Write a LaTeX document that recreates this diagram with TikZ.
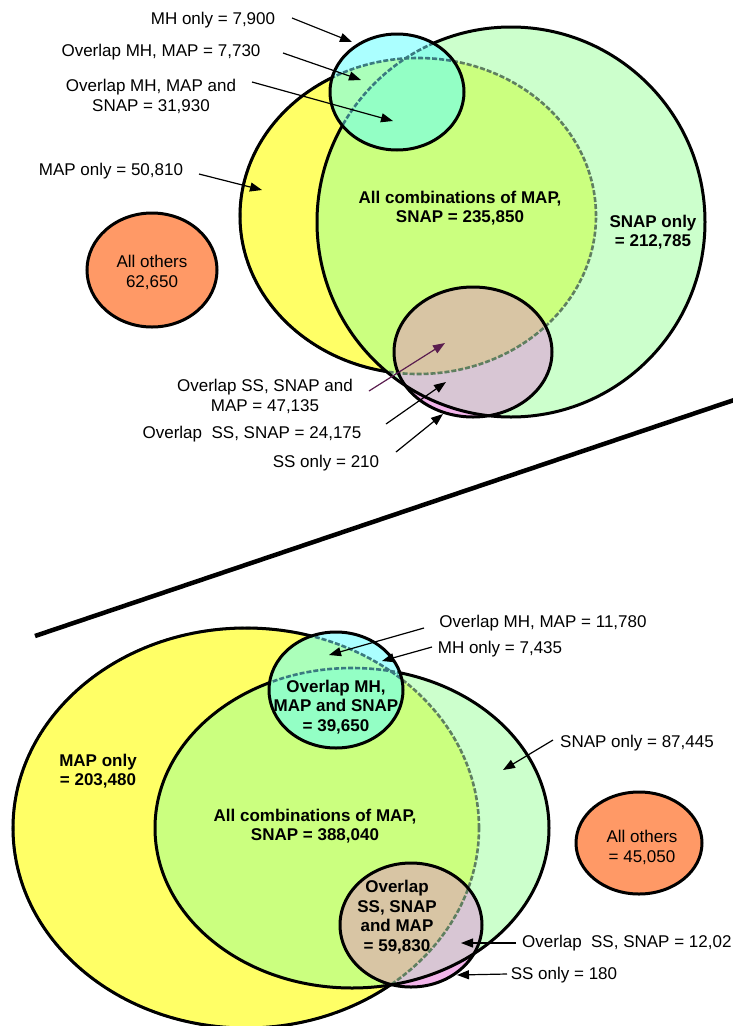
\documentclass[tikz,border=0pt]{standalone}
\usepackage{fontspec}
\setmainfont{Liberation Sans}
\usetikzlibrary{arrows.meta}
\definecolor{yel}{HTML}{FFFF66}
\definecolor{grn}{HTML}{99FF99}
\definecolor{cyn}{HTML}{66FFFF}
\definecolor{pnk}{HTML}{EE69E1}
\definecolor{slv}{HTML}{F2B4EA}
\definecolor{org}{HTML}{FF9966}
\definecolor{gry}{HTML}{5F7F60}
\definecolor{tl}{HTML}{3A7A80}
\definecolor{prp}{HTML}{5B1E4F}
\def\pYT{(418,216) ellipse [x radius=178pt,y radius=158pt]}
\def\pGT{(511,222) ellipse [x radius=194pt,y radius=195pt]}
\def\pMT{(397,92) ellipse [x radius=67pt,y radius=58pt]}
\def\pST{(473,352) ellipse [x radius=79pt,y radius=65pt]}
\def\pOT{(152,270) ellipse [x radius=65pt,y radius=57pt]}
\def\pYB{(246,828) ellipse [x radius=233pt,y radius=200pt]}
\def\pGB{(352,828) ellipse [x radius=197pt,y radius=160pt]}
\def\pMB{(336,690) ellipse [x radius=67pt,y radius=58pt]}
\def\pSB{(411,925) ellipse [x radius=71pt,y radius=62pt]}
\def\pOB{(639,843) ellipse [x radius=63pt,y radius=51pt]}
\def\pBig{(-100,-100) rectangle (900,1200)}
\begin{document}
\begin{tikzpicture}[x=1pt,y=-1pt,
  lbl/.style={font=\fontsize{17}{20}\selectfont, align=center, inner sep=0pt},
  blbl/.style={font=\fontsize{17}{19.5}\selectfont\bfseries, align=center, inner sep=0pt},
  arr/.style={line width=1.2pt, -{Triangle[length=12pt,width=9pt]}},
  outl/.style={line width=3pt},
  dsh/.style={line width=2.6pt, dash pattern=on 5pt off 2pt}]
\useasboundingbox (0,0) rectangle (733,1026);
\clip (0,0) rectangle (733,1026);

% ================= TOP DIAGRAM =================
\fill[yel] \pYT;
\fill[grn, opacity=.5] \pGT;
\fill[cyn, opacity=.55] \pMT;
\fill[pnk, opacity=.38] \pST;
\begin{scope}[even odd rule]
  \clip \pST;
  \clip \pBig \pYT;
  \clip \pBig \pGT;
  \fill[slv] \pBig;
\end{scope}
\begin{scope}
  \clip \pMT;
  \draw[dsh, tl] \pYT;
  \draw[dsh, tl] \pGT;
\end{scope}
\begin{scope}[even odd rule]
  \clip \pBig \pMT;
  \draw[dsh, gry] \pYT;
  \begin{scope}
    \clip \pBig \pGT;
    \draw[outl] \pYT;
  \end{scope}
  \draw[outl] \pGT;
\end{scope}
\draw[outl] \pMT;
\draw[outl] \pST;
\filldraw[outl, fill=org] \pOT;

\node[lbl] (t1) at (213,20) {MH only = 7,900};
\node[lbl] (t2) at (161,52) {Overlap MH, MAP = 7,730};
\node[lbl] (t3) at (151,96) {Overlap MH, MAP and\\SNAP = 31,930};
\node[lbl] (t4) at (111,171) {MAP only = 50,810};
\node[blbl] (t5) at (460,208) {All combinations of MAP,\\SNAP = 235,850};
\node[blbl] (t6) at (653,232) {SNAP only\\= 212,785};
\node[lbl] (t7) at (152,272) {All others\\62,650};
\node[lbl] (t8) at (265,396) {Overlap SS, SNAP and\\MAP = 47,135};
\node[lbl] (t9) at (252,434) {Overlap\ \ SS, SNAP = 24,175};
\node[lbl] (t10) at (326,463) {SS only = 210};

\coordinate (a1s) at (292,18);  \coordinate (a1e) at (352,42);
\coordinate (a2s) at (283,53);  \coordinate (a2e) at (361,80);
\coordinate (a3s) at (252,82);  \coordinate (a3e) at (393,121);
\coordinate (a4s) at (199,174); \coordinate (a4e) at (262,190);
\coordinate (a5s) at (369,391); \coordinate (a5e) at (445,343);
\coordinate (a6s) at (386,424); \coordinate (a6e) at (446,382);
\coordinate (a7s) at (396,452); \coordinate (a7e) at (443,414);
\draw[arr] (a1s) -- (a1e);
\draw[arr] (a2s) -- (a2e);
\draw[arr] (a3s) -- (a3e);
\draw[arr] (a4s) -- (a4e);
\draw[arr, prp] (a5s) -- (a5e);
\draw[arr] (a6s) -- (a6e);
\draw[arr] (a7s) -- (a7e);

% ================= SEPARATOR =================
\coordinate (s1) at (35,636);
\coordinate (s2) at (740,398);
\draw[line width=4.5pt] (s1) -- (s2);

% ================= BOTTOM DIAGRAM =================
\fill[yel] \pYB;
\fill[grn, opacity=.5] \pGB;
\fill[cyn, opacity=.55] \pMB;
\fill[pnk, opacity=.38] \pSB;
\begin{scope}[even odd rule]
  \clip \pSB;
  \clip \pBig \pYB;
  \clip \pBig \pGB;
  \fill[slv] \pBig;
\end{scope}
\begin{scope}
  \clip \pMB;
  \draw[dsh, tl] \pYB;
  \draw[dsh, tl] \pGB;
\end{scope}
\begin{scope}[even odd rule]
  \clip \pBig \pMB;
  \draw[dsh, gry] \pYB;
  \begin{scope}
    \clip \pBig \pGB;
    \draw[outl] \pYB;
  \end{scope}
  \draw[outl] \pGB;
\end{scope}
\draw[outl] \pMB;
\draw[outl] \pSB;
\filldraw[outl, fill=org] \pOB;

\node[blbl] (u1) at (98,771) {MAP only\\= 203,480};
\node[blbl] (u2) at (315,826) {All combinations of MAP,\\SNAP = 388,040};
\node[blbl] (u3) at (336,707) {Overlap MH,\\MAP and SNAP\\= 39,650};
\node[blbl] (u4) at (397,917) {Overlap\\SS, SNAP\\and MAP\\= 59,830};
\node[lbl] (u5) at (642,847) {All others\\= 45,050};
\node[lbl] (u6) at (543,623) {Overlap MH, MAP = 11,780};
\node[lbl] (u7) at (500,649) {MH only = 7,435};
\node[lbl] (u8) at (637,743) {SNAP only = 87,445};
\node[lbl, anchor=west] (u9) at (522,943) {Overlap\ \ SS, SNAP = 12,02};
\node[lbl] (u10) at (564,975) {SS only = 180};

\coordinate (b1s) at (424,628); \coordinate (b1e) at (329,655);
\coordinate (b2s) at (432,647); \coordinate (b2e) at (382,661);
\coordinate (b3s) at (553,740); \coordinate (b3e) at (503,770);
\coordinate (b4s) at (516,943); \coordinate (b4e) at (461,943);
\coordinate (b5s) at (507,974); \coordinate (b5e) at (457,975);
\draw[arr] (b1s) -- (b1e);
\draw[arr] (b2s) -- (b2e);
\draw[arr] (b3s) -- (b3e);
\draw[arr] (b4s) -- (b4e);
\draw[arr] (b5s) -- (b5e);
\end{tikzpicture}
\end{document}
